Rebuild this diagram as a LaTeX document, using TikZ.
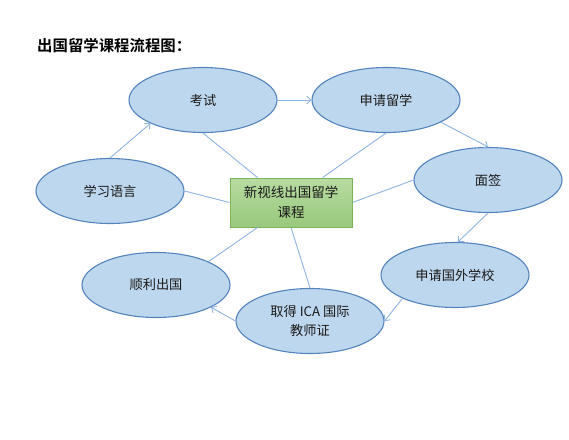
\documentclass[tikz,border=0pt]{standalone}
\usepackage{fontspec}
\setmainfont{Noto Sans CJK SC}
\newfontfamily\cjkb{Noto Sans CJK SC Bold}
\usetikzlibrary{arrows.meta,shapes.geometric,calc}
\definecolor{efill}{HTML}{BDD7EE}
\definecolor{edraw}{HTML}{5584BD}
\definecolor{lnk}{HTML}{8DB4E2}
\definecolor{gtop}{HTML}{B8DBA2}
\definecolor{gbot}{HTML}{98C97C}
\definecolor{gdraw}{HTML}{7DB35B}
\definecolor{txt}{HTML}{1A1A1A}
\tikzset{
  oval/.style={ellipse,draw=edraw,fill=efill,line width=1.1pt,minimum width=148pt,minimum height=65pt,inner sep=0pt,text=txt,font=\fontsize{13.2}{19}\selectfont,align=center},
  hub/.style={rectangle,draw=gdraw,top color=gtop,bottom color=gbot,line width=0.9pt,minimum width=122pt,minimum height=49pt,inner sep=0pt,text=txt,font=\fontsize{13.5}{20}\selectfont,align=center},
  link/.style={draw=lnk,line width=0.9pt},
  flow/.style={link,-{Straight Barb[length=4pt,width=8pt]}}
}
\begin{document}
\begin{tikzpicture}[x=1pt,y=-1pt]
\useasboundingbox (0,0) rectangle (569,439);
\node[anchor=west,font=\cjkb\fontsize{15.4}{17}\selectfont,text=black,inner sep=0pt] (title) at (37,46) {出国留学课程流程图：};
\node[oval] (kaoshi) at (203,100) {考试};
\node[oval] (shenqing) at (386,100) {申请留学};
\node[oval] (mianqian) at (488,180) {面签};
\node[oval] (guowai) at (455,275) {申请国外学校};
\node[oval] (ica) at (310,321) {取得 ICA 国际\\教师证};
\node[oval] (shunli) at (156,285) {顺利出国};
\node[oval] (xuexi) at (110,191) {学习语言};
\node[hub] (c) at (291,202.5) {新视线出国留学\\课程};
% spokes
\draw[link] ([xshift=28pt]c.north west) -- (kaoshi.south);
\draw[link] ([xshift=93pt]c.north west) -- (shenqing.south);
\draw[link] (c.east) -- (mianqian.west);
\draw[link] (xuexi.east) -- (c.west);
\draw[link] ([xshift=28pt]c.south west) -- (shunli.24);
\draw[link] (c.south) -- (ica.north);
% flow
\draw[flow] (xuexi.north) -- (kaoshi.204);
\draw[flow] (kaoshi.east) -- (shenqing.west);
\draw[flow] (shenqing.-22) -- (mianqian.north);
\draw[flow] (mianqian.south) -- (guowai.85);
\draw[flow] (guowai.204) -- (ica.east);
\draw[flow] (ica.west) -- (shunli.-22);
\end{tikzpicture}
\end{document}
